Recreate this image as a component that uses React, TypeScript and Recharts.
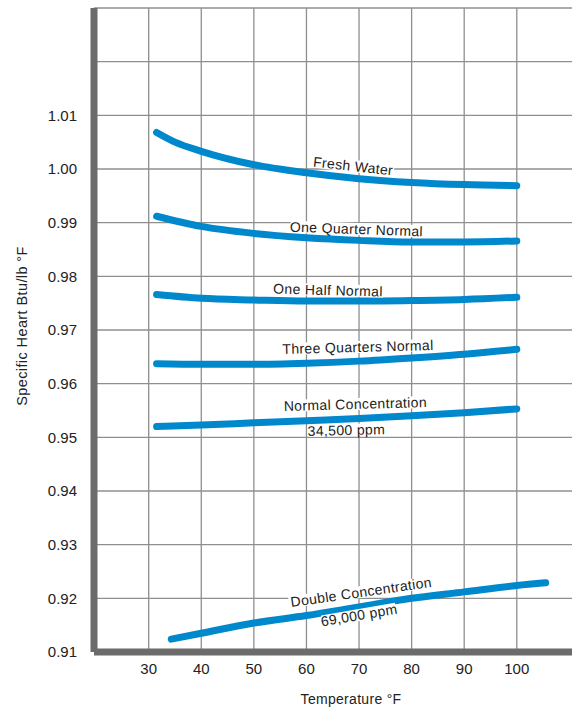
import { LineChart, Line, XAxis, YAxis, CartesianGrid, ReferenceDot, Label } from "recharts";

const FONT = '"Liberation Sans", Arial, Helvetica, sans-serif';
const BLUE = "#0088cc";

// temperature (°F) / specific heat (Btu/lb °F)
const freshT = [31.5, 35, 40, 50, 60, 70, 80, 90, 100];
const freshV = [1.0068, 1.005, 1.0033, 1.0008, 0.9993, 0.9982, 0.9975, 0.9971, 0.9969];

const quarterT = [31.5, 40, 50, 60, 70, 80, 90, 100];
const quarterV = [0.9912, 0.9893, 0.988, 0.9872, 0.9867, 0.9864, 0.9864, 0.9866];

const halfT = [31.5, 40, 50, 60, 70, 80, 90, 100];
const halfV = [0.9766, 0.9759, 0.9756, 0.9754, 0.9754, 0.9755, 0.9757, 0.9761];

const threeQT = [31.5, 40, 50, 60, 70, 80, 90, 100];
const threeQV = [0.9637, 0.9636, 0.9636, 0.9638, 0.9642, 0.9648, 0.9655, 0.9664];

const normalT = [31.5, 40, 50, 60, 70, 80, 90, 100];
const normalV = [0.952, 0.9523, 0.9527, 0.9531, 0.9535, 0.954, 0.9546, 0.9553];

const doubleT = [34.3, 40, 50, 60, 70, 80, 90, 100, 105.5];
const doubleV = [0.9124, 0.9135, 0.9154, 0.9168, 0.9184, 0.92, 0.9212, 0.9224, 0.9229];

const xTicks = [30, 40, 50, 60, 70, 80, 90, 100];
const yTicks = [0.91, 0.92, 0.93, 0.94, 0.95, 0.96, 0.97, 0.98, 0.99, 1.0, 1.01];
const yGrid = [0.91, 0.92, 0.93, 0.94, 0.95, 0.96, 0.97, 0.98, 0.99, 1.0, 1.01, 1.02, 1.03];

const zip = (ts: number[], vs: number[]) => ts.map((t, i) => ({ t, v: vs[i] }));

const series = [
  zip(freshT, freshV),
  zip(quarterT, quarterV),
  zip(halfT, halfV),
  zip(threeQT, threeQV),
  zip(normalT, normalV),
  zip(doubleT, doubleV),
];

// curve captions: text, anchor (data units), rotation
const captions = [
  { text: "Fresh Water", t: 68.9, v: 1.00056, a: 6.4 },
  { text: "One Quarter Normal", t: 69.5, v: 0.98882, a: 2 },
  { text: "One Half Normal", t: 64.1, v: 0.97745, a: 1.5 },
  { text: "Three Quarters Normal", t: 69.8, v: 0.96683, a: -1.5 },
  { text: "Normal Concentration", t: 69.3, v: 0.95621, a: -1.6 },
  { text: "34,500 ppm", t: 67.6, v: 0.95136, a: -1.4 },
  { text: "Double Concentration", t: 70.4, v: 0.92118, a: -8.2 },
  { text: "69,000 ppm", t: 70.0, v: 0.91689, a: -9.7 },
];

function Caption({ cx, cy, text, a }: any) {
  const w = text.length * 7.1 + 4;
  return (
    <g transform={`rotate(${a}, ${cx}, ${cy})`}>
      <rect x={cx - w / 2} y={cy - 6} width={w} height={12} fill="#fff" />
      <text
        x={cx}
        y={cy}
        textAnchor="middle"
        dominantBaseline="central"
        fontFamily={FONT}
        fontSize={14}
        letterSpacing={0.35}
        fill="#222"
      >
        {text}
      </text>
    </g>
  );
}

export default function App() {
  return (
    <div style={{ position: "absolute", left: 0, top: 0, background: "#fff" }}>
      <LineChart width={572} height={711} margin={{ top: 8, right: 0, bottom: 0, left: 0 }}>
        <CartesianGrid
          stroke="#8f8f8f"
          strokeWidth={1.3}
          horizontalValues={yGrid}
          verticalValues={xTicks}
        />
        <XAxis
          type="number"
          dataKey="t"
          domain={[19.6, 110.5]}
          ticks={xTicks}
          allowDataOverflow
          height={59}
          tickLine={false}
          tickSize={0}
          tickMargin={11}
          axisLine={{ stroke: "#6b6b6b", strokeWidth: 7 }}
          tick={{ fill: "#222", fontSize: 15, fontFamily: FONT }}
        >
          <Label
            value="Temperature °F"
            position="insideBottom"
            offset={7}
            dx={18}
            style={{ fill: "#222", fontSize: 14, fontFamily: FONT, letterSpacing: 0.3 }}
          />
        </XAxis>
        <YAxis
          type="number"
          domain={[0.91, 1.03]}
          ticks={yTicks}
          allowDataOverflow
          width={94}
          tickLine={false}
          tickSize={0}
          tickMargin={17}
          tickFormatter={(v: number) => v.toFixed(2)}
          axisLine={{ stroke: "#6b6b6b", strokeWidth: 7 }}
          tick={{ fill: "#222", fontSize: 15, fontFamily: FONT }}
        >
          <Label
            content={({ viewBox }: any) => {
              const x = viewBox.x + 22;
              const y = viewBox.y + viewBox.height / 2 - 4;
              return (
                <text
                  x={x}
                  y={y}
                  transform={`rotate(-90, ${x}, ${y})`}
                  textAnchor="middle"
                  dominantBaseline="central"
                  fontFamily={FONT}
                  fontSize={14.5}
                  letterSpacing={0.4}
                  fill="#222"
                >
                  Specific Heart Btu/lb °F
                </text>
              );
            }}
          />
        </YAxis>
        {captions.map((c) => (
          <ReferenceDot
            key={c.text}
            x={c.t}
            y={c.v}
            r={0}
            shape={(p: any) => <Caption cx={p.cx} cy={p.cy} text={c.text} a={c.a} />}
          />
        ))}
        {series.map((d, i) => (
          <Line
            key={i}
            data={d}
            dataKey="v"
            type="monotone"
            stroke={BLUE}
            strokeWidth={7}
            strokeLinecap="round"
            dot={false}
            activeDot={false}
            isAnimationActive={false}
          />
        ))}
      </LineChart>
    </div>
  );
}
